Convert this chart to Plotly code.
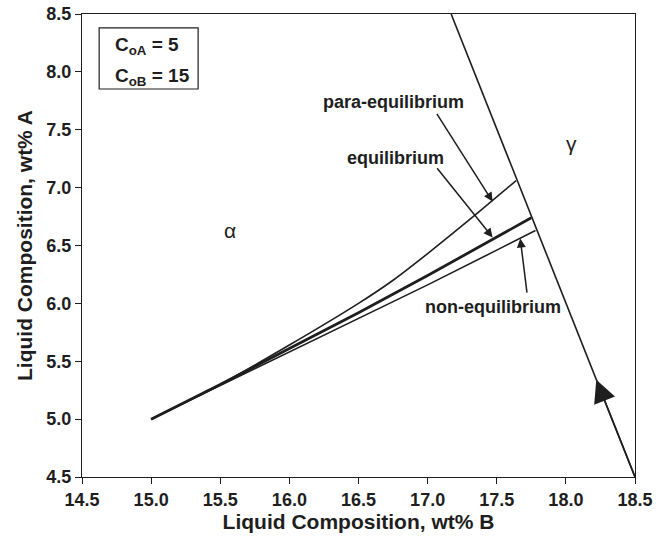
import plotly.graph_objects as go

# gamma boundary line
gamma_x = [17.17, 18.5]
gamma_y = [8.5, 4.5]

# composition paths
para_x = [15.0, 15.5, 16.0, 16.5, 16.75, 17.0, 17.36, 17.64]
para_y = [5.0, 5.30, 5.64, 6.00, 6.20, 6.43, 6.78, 7.06]
eq_x = [15.0, 15.5, 16.0, 16.5, 17.0, 17.5, 17.75]
eq_y = [5.0, 5.30, 5.61, 5.92, 6.24, 6.57, 6.74]
neq_x = [15.0, 15.5, 16.0, 16.5, 17.0, 17.5, 17.78]
neq_y = [5.0, 5.29, 5.58, 5.87, 6.16, 6.46, 6.63]

x_ticks = [14.5, 15.0, 15.5, 16.0, 16.5, 17.0, 17.5, 18.0, 18.5]
y_ticks = [4.5, 5.0, 5.5, 6.0, 6.5, 7.0, 7.5, 8.0, 8.5]

# labels: (text, text_x, text_y, arrow_tail_x, arrow_tail_y, arrow_head_x, arrow_head_y)
labels = [
    ("para-equilibrium", 16.75, 7.74, 17.06, 7.65, 17.47, 6.88),
    ("equilibrium", 16.77, 7.26, 17.06, 7.18, 17.47, 6.57),
    ("non-equilibrium", 17.47, 5.97, 17.72, 6.08, 17.67, 6.56),
]
phase_labels = [("α", 15.57, 6.63), ("γ", 18.04, 7.38)]
path_arrow = (18.5, 4.5, 18.22, 5.34)

LC = "#1e1e1e"
FONT = "Liberation Sans, Arial, sans-serif"

fig = go.Figure()
fig.add_trace(go.Scatter(x=gamma_x, y=gamma_y, mode="lines", line=dict(color=LC, width=1.6)))
fig.add_trace(go.Scatter(x=para_x, y=para_y, mode="lines", line=dict(color=LC, width=1.6, shape="spline", smoothing=0.6)))
fig.add_trace(go.Scatter(x=eq_x, y=eq_y, mode="lines", line=dict(color=LC, width=2.8)))
fig.add_trace(go.Scatter(x=neq_x, y=neq_y, mode="lines", line=dict(color=LC, width=1.6)))

anns = []
for t, tx, ty, ax, ay, hx, hy in labels:
    anns.append(dict(x=tx, y=ty, text="<b>%s</b>" % t, showarrow=False,
                     font=dict(size=18, color=LC, family=FONT)))
    anns.append(dict(x=hx, y=hy, ax=ax, ay=ay, xref="x", yref="y", axref="x", ayref="y",
                     text="", showarrow=True, arrowhead=2, arrowsize=1.2, arrowwidth=1.5,
                     arrowcolor=LC))
for t, tx, ty in phase_labels:
    anns.append(dict(x=tx, y=ty, text=t, showarrow=False,
                     font=dict(size=21, color=LC, family=FONT)))
ax0, ay0, hx0, hy0 = path_arrow
anns.append(dict(x=hx0, y=hy0, ax=ax0, ay=ay0, xref="x", yref="y", axref="x", ayref="y",
                 text="", showarrow=True, arrowhead=2, arrowsize=2.8, arrowwidth=1.6,
                 arrowcolor=LC))
anns.append(dict(x=0.056, y=0.962, xref="paper", yref="paper", xanchor="left",
                 text="<b>C<sub>oA</sub> = 5</b>", showarrow=False,
                 font=dict(size=19, color=LC, family=FONT)))
anns.append(dict(x=0.056, y=0.895, xref="paper", yref="paper", xanchor="left",
                 text="<b>C<sub>oB</sub> = 15</b>", showarrow=False,
                 font=dict(size=19, color=LC, family=FONT)))

fig.add_shape(type="rect", xref="paper", yref="paper", x0=0.031, x1=0.21, y0=0.838, y1=0.97,
              line=dict(color=LC, width=1.2), fillcolor="white", layer="below")

fig.update_layout(
    width=667, height=537,
    margin=dict(l=82, r=32, t=14, b=60),
    plot_bgcolor="white", paper_bgcolor="white",
    showlegend=False,
    annotations=anns,
    font=dict(family=FONT, color=LC),
)
axis_common = dict(showline=True, linecolor=LC, linewidth=1.4, mirror=True, ticks="outside",
                   ticklen=6, tickwidth=1.2, tickcolor=LC, showgrid=False, zeroline=False,
                   automargin=False, tickfont=dict(size=18, family=FONT, color=LC))
fig.update_xaxes(range=[14.5, 18.5], tickvals=x_ticks, ticktext=["<b>%.1f</b>" % v for v in x_ticks],
                 title=dict(text="<b>Liquid Composition, wt% B</b>", font=dict(size=21, family=FONT, color=LC), standoff=2),
                 **axis_common)
fig.update_yaxes(range=[4.5, 8.5], tickvals=y_ticks, ticktext=["<b>%.1f</b>" % v for v in y_ticks],
                 title=dict(text="<b>Liquid Composition, wt% A</b>", font=dict(size=21, family=FONT, color=LC), standoff=7),
                 **axis_common)

fig.write_html("out.html")
